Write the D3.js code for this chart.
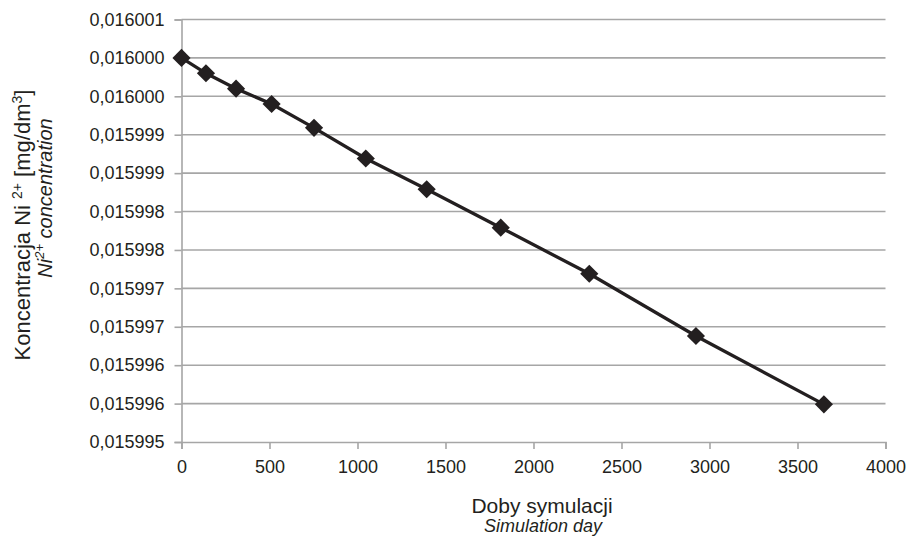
<!DOCTYPE html>
<html>
<head>
<meta charset="utf-8">
<script src="https://cdnjs.cloudflare.com/ajax/libs/d3/7.8.5/d3.min.js"></script>
<style>
  body { margin: 0; background: #fff; }
  text { font-family: "Liberation Sans", Arial, sans-serif; fill: #231f20; }
</style>
</head>
<body>
<div id="content"></div>
<script>
(function() {

// data
var days = [0, 139, 310, 512, 753, 1047, 1393, 1814, 2317, 2923, 3650];
var conc = [0.01600000, 0.01599980, 0.01599960, 0.01599940, 0.01599909, 0.01599869,
            0.01599829, 0.01599779, 0.01599719, 0.01599638, 0.01599549];

// y ticks (Excel rounds them to 6 decimals)
var yTicks = [0.015995, 0.0159955, 0.015996, 0.0159965, 0.015997, 0.0159975,
              0.015998, 0.0159985, 0.015999, 0.0159995, 0.016000, 0.0160005];
var yTickLabels = ['0,015995', '0,015996', '0,015996', '0,015997', '0,015997', '0,015998',
                   '0,015998', '0,015999', '0,015999', '0,016000', '0,016000', '0,016001'];
var xTicks = [0, 500, 1000, 1500, 2000, 2500, 3000, 3500, 4000];

var w = 906, h = 538;
var margin = {top: 19.5, right: 20.5, bottom: 96, left: 181.5},
    width = w - margin.left - margin.right,
    height = h - margin.top - margin.bottom;

var gridColor = '#a6a6a6';
var inkColor = '#231f20';

var x = d3.scaleLinear().domain([0, 4000]).range([0, width]);
var y = d3.scaleLinear().domain([0.015995, 0.0160005]).range([height, 0]);

var svg = d3.select('#content')
    .append('svg')
    .attr('width', w)
    .attr('height', h);

var g = svg.append('g')
    .attr('transform', 'translate(' + margin.left + ',' + margin.top + ')');

// horizontal grid lines
g.selectAll('.grid')
    .data(yTicks.slice(1))
    .enter().append('line')
    .attr('class', 'grid')
    .attr('x1', 0)
    .attr('x2', width)
    .attr('y1', function(d) { return y(d); })
    .attr('y2', function(d) { return y(d); })
    .attr('stroke', gridColor)
    .attr('stroke-width', 1.6);

// y axis
var yAxis = g.append('g')
    .attr('class', 'yaxis')
    .call(d3.axisLeft(y)
      .tickValues(yTicks)
      .tickSize(7)
      .tickPadding(10)
      .tickFormat(function(d, i) { return yTickLabels[i]; }));

// x axis
var xAxis = g.append('g')
    .attr('class', 'xaxis')
    .attr('transform', 'translate(0,' + height + ')')
    .call(d3.axisBottom(x)
      .tickValues(xTicks)
      .tickSize(7)
      .tickPadding(11)
      .tickFormat(d3.format('d')));

[yAxis, xAxis].forEach(function(ax) {
  ax.select('.domain').attr('stroke', gridColor).attr('stroke-width', 1.6);
  ax.selectAll('.tick line').attr('stroke', gridColor).attr('stroke-width', 1.6);
  ax.selectAll('.tick text')
    .attr('fill', inkColor)
    .style('font-family', '"Liberation Sans", Arial, sans-serif')
    .style('font-size', '18px');
});

// line
var line = d3.line()
    .x(function(d, i) { return x(days[i]); })
    .y(function(d) { return y(d); });

g.append('path')
    .datum(conc)
    .attr('fill', 'none')
    .attr('stroke', inkColor)
    .attr('stroke-width', 3.3)
    .attr('d', line);

// diamond markers
var diamond = d3.symbol().type(d3.symbolSquare).size(165);
g.selectAll('.marker')
    .data(conc)
    .enter().append('path')
    .attr('class', 'marker')
    .attr('d', diamond)
    .attr('fill', inkColor)
    .attr('transform', function(d, i) {
      return 'translate(' + x(days[i]) + ',' + y(d) + ') rotate(45)';
    });

// x axis title
svg.append('text')
    .attr('x', 542)
    .attr('y', 513)
    .style('text-anchor', 'middle')
    .style('font-size', '21px')
    .text('Doby symulacji');

svg.append('text')
    .attr('x', 543)
    .attr('y', 532)
    .style('text-anchor', 'middle')
    .style('font-size', '18px')
    .style('font-style', 'italic')
    .text('Simulation day');

// y axis title
var yTitle = svg.append('text')
    .attr('transform', 'translate(30,225) rotate(-90)')
    .style('text-anchor', 'middle')
    .style('font-size', '22px');
yTitle.append('tspan').text('Koncentracja Ni ');
yTitle.append('tspan').attr('dy', -8).style('font-size', '14px').text('2+');
yTitle.append('tspan').attr('dy', 8).text(' [mg/dm');
yTitle.append('tspan').attr('dy', -8).style('font-size', '14px').text('3');
yTitle.append('tspan').attr('dy', 8).text(']');

var ySub = svg.append('text')
    .attr('transform', 'translate(52,198) rotate(-90)')
    .style('text-anchor', 'middle')
    .style('font-size', '20px')
    .style('font-style', 'italic');
ySub.append('tspan').text('Ni');
ySub.append('tspan').attr('dy', -8).style('font-size', '13px').text('2+');
ySub.append('tspan').attr('dy', 8).text(' concentration');

})();
</script>
</body>
</html>
